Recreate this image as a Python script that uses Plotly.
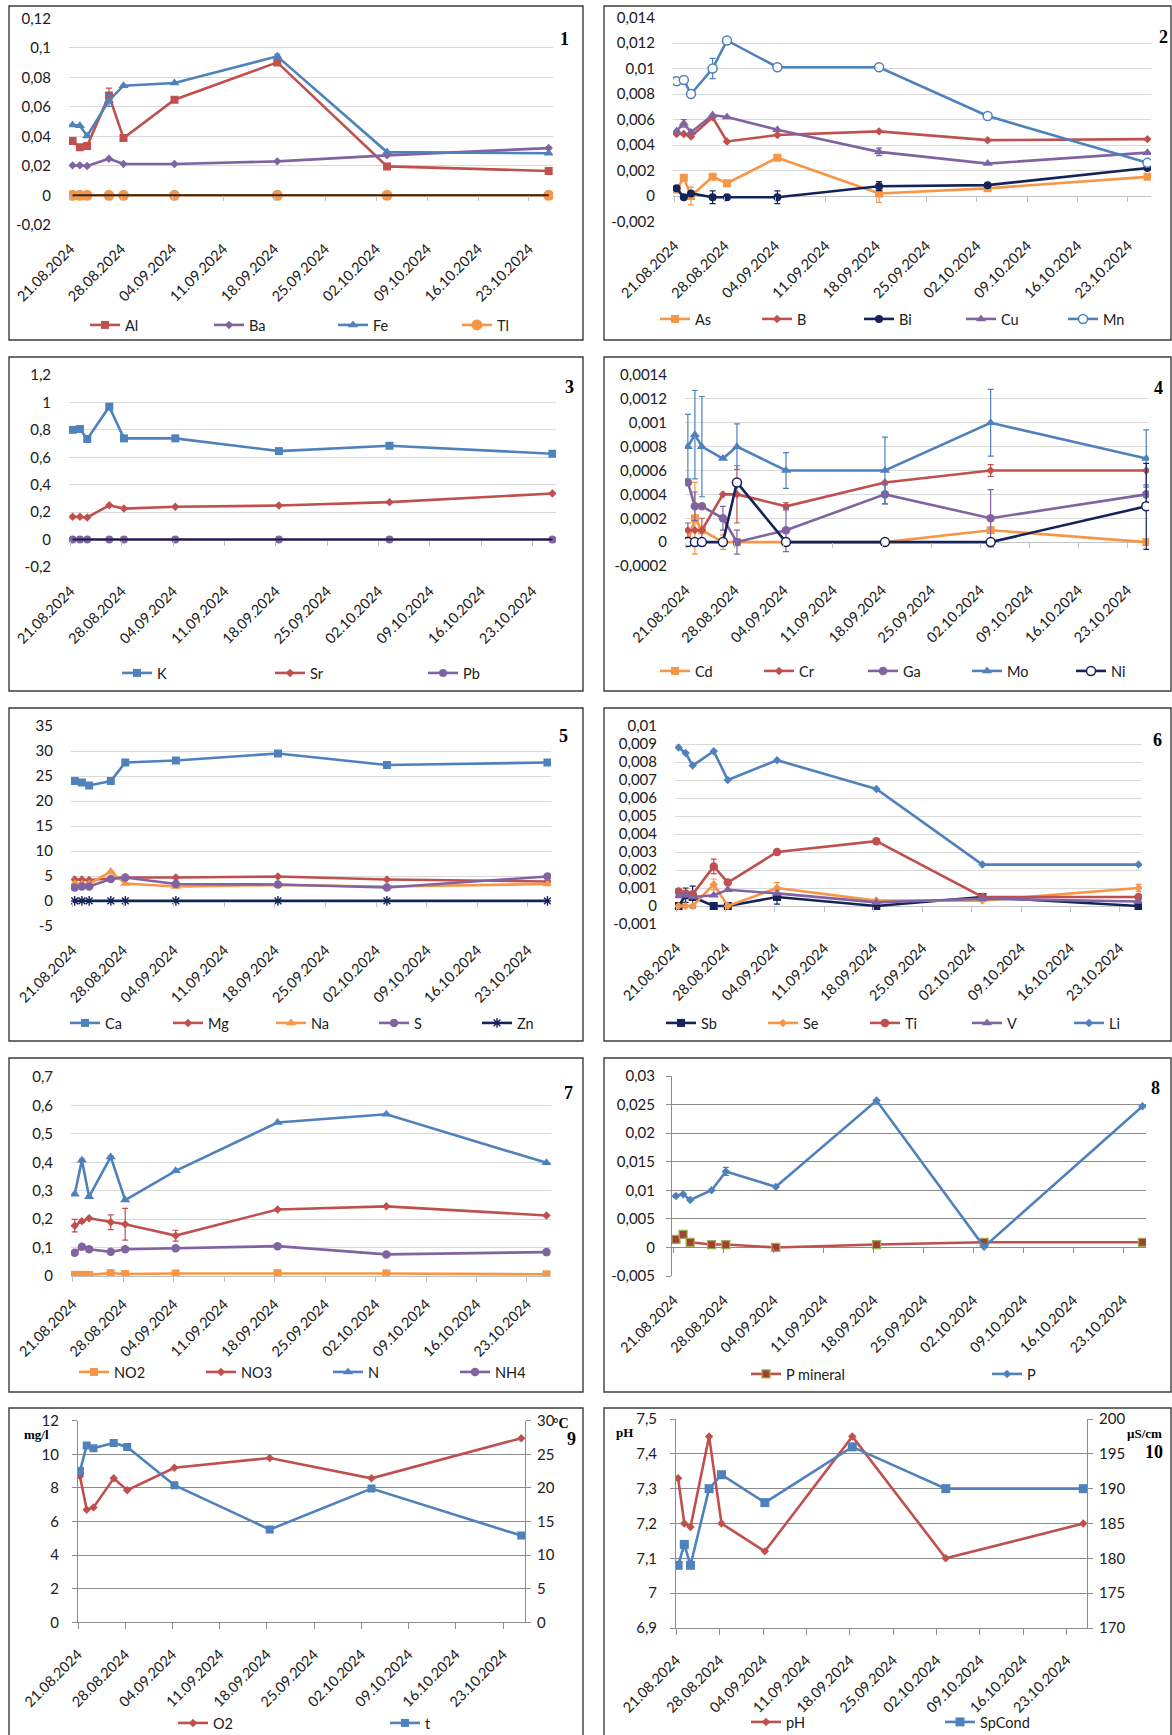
import plotly.graph_objects as go
from datetime import datetime, timedelta

W, H = 1172, 1735
FONT = "Lato"
BASE = datetime(2024, 8, 21)

# ---------------- data ----------------
dates = ["2024-08-21 07:00", "2024-08-22 07:00", "2024-08-23 07:00", "2024-08-26 07:00",
         "2024-08-28 07:00", "2024-09-04 07:00", "2024-09-18 10:00", "2024-10-03 12:00",
         "2024-10-25 17:00"]

# panel 1
al = [0.0368, 0.0325, 0.0334, 0.0677, 0.0388, 0.0648, 0.0901, 0.0196, 0.0165]
al_err = [0, 0, 0, 0.005, 0, 0, 0, 0, 0]
ba = [0.0203, 0.0203, 0.0199, 0.0248, 0.0212, 0.0212, 0.0230, 0.0271, 0.0320]
fe = [0.0476, 0.0472, 0.0402, 0.0643, 0.0743, 0.0761, 0.0942, 0.0293, 0.0285]
fe_err = [0, 0, 0, 0.004, 0, 0, 0.0015, 0, 0]
tl = [0, 0, 0, 0, 0, 0, 0, 0, 0]
p1_ticks = ["-0,02", "0", "0,02", "0,04", "0,06", "0,08", "0,1", "0,12"]

# panel 2
as_ = [0.0005, 0.00144, 0.0, 0.0015, 0.0010, 0.0030, 0.0002, 0.0006, 0.0015]
as_err = [0, 0.0002, 0.0007, 0, 0, 0, 0.0007, 0, 0]
b = [0.00486, 0.00486, 0.00466, 0.00617, 0.00428, 0.00478, 0.00507, 0.00438, 0.00446]
bi = [0.0006, -0.0001, 0.0002, -0.0001, -0.0001, -0.0001, 0.00077, 0.00085, 0.0022]
bi_err = [0, 0, 0, 0.0005, 0, 0.0005, 0.00035, 0, 0]
cu = [0.0051, 0.0057, 0.0050, 0.00635, 0.0062, 0.0052, 0.00346, 0.00254, 0.0034]
cu_err = [0, 0.0003, 0, 0, 0, 0, 0.0003, 0, 0]
mn = [0.0090, 0.0091, 0.0080, 0.0100, 0.0122, 0.0101, 0.0101, 0.00627, 0.0026]
mn_err = [0, 0, 0, 0.0008, 0, 0, 0, 0, 0]
p2_ticks = ["-0,002", "0", "0,002", "0,004", "0,006", "0,008", "0,01", "0,012", "0,014"]

# panel 3
k = [0.800, 0.806, 0.733, 0.969, 0.738, 0.738, 0.645, 0.684, 0.626]
sr = [0.166, 0.166, 0.161, 0.250, 0.226, 0.239, 0.248, 0.273, 0.336]
pb = [0, 0, 0, 0, 0, 0, 0, 0, 0]
p3_ticks = ["-0,2", "0", "0,2", "0,4", "0,6", "0,8", "1", "1,2"]

# panel 4
cd = [0.0, 0.0002, 0.0001, 0.0, 0.0, 0.0, 0.0, 0.0001, 0.0]
cd_err = [0, 0.0003, 0, 0.00006, 0, 0, 0, 0, 0]
cr = [0.0001, 0.0001, 0.0001, 0.0004, 0.0004, 0.0003, 0.0005, 0.0006, 0.0006]
cr_err = [0.00006, 0, 0.0001, 0, 0.00024, 0.00003, 0, 0.00005, 0]
ga = [0.0005, 0.0003, 0.0003, 0.0002, 0.0, 0.0001, 0.0004, 0.0002, 0.0004]
ga_err = [0, 0.00012, 0, 0.0001, 0.0001, 0.00018, 0.00008, 0.00024, 0.00008]
mo = [0.0008, 0.0009, 0.0008, 0.0007, 0.0008, 0.0006, 0.0006, 0.0010, 0.0007]
mo_err = [0.00027, 0.00037, 0.00042, 0, 0.00019, 0.00015, 0.00028, 0.00028, 0.00024]
ni = [0.0, 0.0, 0.0, 0.0, 0.0005, 0.0, 0.0, 0.0, 0.0003]
ni_err = [0, 0, 0, 0, 0, 0, 0, 0, 0.00036]
p4_ticks = ["-0,0002", "0", "0,0002", "0,0004", "0,0006", "0,0008", "0,001", "0,0012", "0,0014"]

# panel 5
ca = [24.0, 23.7, 23.1, 24.0, 27.7, 28.1, 29.5, 27.2, 27.7]
mg = [4.3, 4.3, 4.2, 4.5, 4.7, 4.7, 4.9, 4.3, 3.9]
na = [3.5, 3.4, 3.4, 5.9, 3.5, 2.9, 3.2, 2.9, 3.4]
s = [2.7, 2.9, 2.9, 4.4, 4.7, 3.4, 3.3, 2.7, 4.9]
zn = [0.03, 0.03, 0.03, 0.03, 0.03, 0.03, 0.03, 0.03, 0.03]
p5_ticks = ["-5", "0", "5", "10", "15", "20", "25", "30", "35"]

# panel 6
sb = [0.0, 0.0006, 0.0005, 0.0, 0.0, 0.0005, 0.0, 0.0005, 0.0]
sb_err = [0, 0.0004, 0.0006, 0, 0, 0.0004, 0, 0, 0]
se = [0.0, 0.0, 0.0, 0.0012, 0.0, 0.0010, 0.0003, 0.0003, 0.0010]
se_err = [0, 0, 0, 0.0003, 0, 0.0003, 0, 0, 0.0002]
ti = [0.0008, 0.0007, 0.00065, 0.0022, 0.0013, 0.0030, 0.0036, 0.0005, 0.0005]
ti_err = [0, 0, 0, 0.0004, 0, 0, 0, 0, 0]
v = [0.00055, 0.0006, 0.0005, 0.0006, 0.0009, 0.0007, 0.0002, 0.0004, 0.00025]
li = [0.0088, 0.0085, 0.0078, 0.0086, 0.0070, 0.0081, 0.0065, 0.0023, 0.0023]
p6_ticks = ["-0,001", "0", "0,001", "0,002", "0,003", "0,004", "0,005", "0,006", "0,007",
            "0,008", "0,009", "0,01"]

# panel 7
no2 = [0.004, 0.004, 0.004, 0.010, 0.007, 0.009, 0.010, 0.009, 0.006]
no3 = [0.177, 0.193, 0.203, 0.189, 0.182, 0.142, 0.234, 0.245, 0.213]
no3_err = [0.022, 0.005, 0, 0.026, 0.056, 0.019, 0, 0, 0]
n = [0.288, 0.407, 0.279, 0.419, 0.267, 0.370, 0.540, 0.569, 0.398]
n_err = [0.004, 0.004, 0.004, 0.004, 0.004, 0, 0, 0.003, 0]
nh4 = [0.082, 0.103, 0.094, 0.085, 0.094, 0.098, 0.105, 0.076, 0.084]
p7_ticks = ["0", "0,1", "0,2", "0,3", "0,4", "0,5", "0,6", "0,7"]

# panel 8
p_min = [0.0014, 0.0023, 0.0009, 0.0005, 0.0005, 0.0, 0.0005, 0.0009, 0.0009]
p_tot = [0.0090, 0.0093, 0.0083, 0.0100, 0.0133, 0.0106, 0.0257, 0.0001, 0.0247]
p_tot_err = [0.0003, 0, 0, 0, 0.0007, 0, 0, 0, 0]
p8_ticks = ["-0,005", "0", "0,005", "0,01", "0,015", "0,02", "0,025", "0,03"]

# panel 9
o2 = [8.7, 6.7, 6.84, 8.57, 7.86, 9.2, 9.78, 8.57, 10.96]
temp = [22.5, 26.3, 25.9, 26.7, 26.1, 20.4, 13.8, 19.9, 12.9]
p9_ticks = ["0", "2", "4", "6", "8", "10", "12"]
p9_ticks_r = ["0", "5", "10", "15", "20", "25", "30"]

# panel 10
ph = [7.33, 7.20, 7.19, 7.45, 7.20, 7.12, 7.45, 7.10, 7.20]
spcond = [179, 182, 179, 190, 192, 188, 196, 190, 190]
p10_ticks = ["6,9", "7", "7,1", "7,2", "7,3", "7,4", "7,5"]
p10_ticks_r = ["170", "175", "180", "185", "190", "195", "200"]

# ---------------- styles / geometry (page pixels) ----------------
RED = "#C0504D"
BLUE = "#4F81BD"
PURPLE = "#8064A2"
ORANGE = "#F79646"
NAVY = "#14245A"
TXT = "#202020"
GRID = "#D9D9D9"
GRID_DARK = "#8C8C8C"
YFS = 15     # y tick label size
XFS = 14.5   # x tick label size
LFS = 14.5   # legend text size

GEOM = {
    1: dict(box=(9, 6, 583, 340), plot=(69, 18.3, 553, 224.8), xr=(-0.2, 66.3), leg=(85, 325, 124), num=(564, 39)),
    2: dict(box=(604, 6, 1171, 340), plot=(673, 17.5, 1151, 221.5), xr=(-0.21, 66.2), leg=(655, 319, 102), num=(1163, 37)),
    3: dict(box=(9, 357, 583, 691), plot=(69, 375, 556, 567), xr=(-0.2, 66.2), leg=(117, 673, 153), num=(569, 387)),
    4: dict(box=(604, 357, 1171, 691), plot=(685, 375, 1149, 566), xr=(-0.12, 66.1), leg=(655, 671, 104), num=(1158, 388)),
    5: dict(box=(9, 708, 583, 1041), plot=(71, 726, 551, 926), xr=(-0.22, 66.2), leg=(65, 1023, 103), num=(563, 736)),
    6: dict(box=(604, 708, 1171, 1041), plot=(675, 726, 1142, 924), xr=(-0.22, 66.2), leg=(661, 1023, 102), num=(1157, 740)),
    7: dict(box=(9, 1058, 583, 1392), plot=(71, 1077, 551, 1276), xr=(-0.22, 66.33), leg=(74, 1372, 127), num=(568, 1093)),
    8: dict(box=(604, 1058, 1171, 1392), plot=(672, 1076, 1146, 1276), xr=(-0.26, 66.2), leg=(746, 1374, 241), num=(1155, 1088)),
    9: dict(box=(9, 1408, 583, 1745), plot=(78, 1420.7, 525, 1622.3), xr=(0.0, 66.26), leg=(173, 1723, 212), num=(571, 1439)),
    10: dict(box=(604, 1408, 1171, 1745), plot=(676, 1419, 1087, 1628), xr=(-0.05, 66.3), leg=(746, 1722, 194), num=(1154, 1452)),
}

TICKS = {1: p1_ticks, 2: p2_ticks, 3: p3_ticks, 4: p4_ticks, 5: p5_ticks,
         6: p6_ticks, 7: p7_ticks, 8: p8_ticks, 9: p9_ticks, 10: p10_ticks}


def fx(px):
    return px / W


def fy(py):
    return 1 - py / H


def vals(ticks):
    return [float(t.replace(",", ".")) for t in ticks]


def dstr(off):
    return (BASE + timedelta(days=off)).strftime("%Y-%m-%d %H:%M:%S")


def axn(kind, i):
    return kind if i == 1 else f"{kind}{i}"


def lgn(i):
    return "legend" if i == 1 else f"legend{i}"


fig = go.Figure()


def add(panel, name, y, color, symbol, size, err=None, fill=None, mline=None, mlw=0,
        yaxis=None, showlegend=True, lw=2.6, mode="lines+markers"):
    marker = dict(symbol=symbol, size=size, color=fill or color,
                  line=dict(color=mline or color, width=mlw))
    tr = go.Scatter(x=dates, y=y, name=name, mode=mode,
                    line=dict(color=color, width=lw), marker=marker,
                    xaxis=axn("x", panel), yaxis=yaxis or axn("y", panel),
                    legend=lgn(panel), showlegend=showlegend, hoverinfo="skip")
    if err is not None:
        tr.update(error_y=dict(type="data", array=err, visible=True, color=color,
                               thickness=1.2, width=3))
    fig.add_trace(tr)


# panel 1
add(1, "Al", al, RED, "square", 8, err=al_err)
add(1, "Ba", ba, PURPLE, "diamond", 6.5)
add(1, "Fe", fe, BLUE, "triangle-up", 9, err=fe_err)
add(1, "Tl", tl, ORANGE, "circle", 11)
add(1, "Tl0", tl, "#2B2622", "circle", 1, showlegend=False, lw=2, mode="lines")
# panel 2
add(2, "As", as_, ORANGE, "square", 8, err=as_err)
add(2, "B", b, RED, "diamond", 6.5)
add(2, "Bi", bi, NAVY, "circle", 8, err=bi_err)
add(2, "Cu", cu, PURPLE, "triangle-up", 9, err=cu_err)
add(2, "Mn", mn, BLUE, "circle", 9, err=mn_err, fill="white", mlw=1.5)
# panel 3
add(3, "K", k, BLUE, "square", 8)
add(3, "Sr", sr, RED, "diamond", 6.5)
add(3, "Pb", pb, PURPLE, "circle", 8)
add(3, "Pb0", pb, "#1C1C3C", "circle", 1, showlegend=False, lw=2, mode="lines")
# panel 4
add(4, "Cd", cd, ORANGE, "square", 8, err=cd_err)
add(4, "Cr", cr, RED, "diamond", 6.5, err=cr_err)
add(4, "Ga", ga, PURPLE, "circle", 8.5, err=ga_err)
add(4, "Mo", mo, BLUE, "triangle-up", 9, err=mo_err)
add(4, "Ni", ni, NAVY, "circle", 9, err=ni_err, fill="white", mlw=1.5)
# panel 5
add(5, "Ca", ca, BLUE, "square", 8)
add(5, "Mg", mg, RED, "diamond", 6.5)
add(5, "Na", na, ORANGE, "triangle-up", 9)
add(5, "S", s, PURPLE, "circle", 8.5)
add(5, "Zn", zn, NAVY, "asterisk-open", 8, mlw=1.4)
# panel 6
add(6, "Sb", sb, NAVY, "square", 8, err=sb_err)
add(6, "Se", se, ORANGE, "diamond", 6.5, err=se_err)
add(6, "Ti", ti, RED, "circle", 8.5, err=ti_err)
add(6, "V", v, PURPLE, "triangle-up", 9)
add(6, "Li", li, BLUE, "diamond", 6.5)
# panel 7
add(7, "NO2", no2, ORANGE, "square", 8)
add(7, "NO3", no3, RED, "diamond", 6.5, err=no3_err)
add(7, "N", n, BLUE, "triangle-up", 9, err=n_err)
add(7, "NH4", nh4, PURPLE, "circle", 8.5)
# panel 8
add(8, "P mineral", p_min, RED, "square", 8, fill="#A0402E", mline="#A6A857", mlw=1.3)
add(8, "P", p_tot, BLUE, "diamond", 6.5, err=p_tot_err)
# panel 9
add(9, "O2", o2, RED, "diamond", 6.5)
add(9, "t", temp, BLUE, "square", 8, yaxis="y11")
# panel 10
add(10, "pH", ph, RED, "diamond", 6.5)
add(10, "SpCond", spcond, BLUE, "square", 9, yaxis="y12")

layout = dict(width=W, height=H, margin=dict(l=0, r=0, t=0, b=0, autoexpand=False),
              autosize=False, paper_bgcolor="white", plot_bgcolor="white",
              font=dict(family=FONT, size=14, color=TXT), showlegend=True)

shapes = []
annotations = []
zero_axis_id = 13
for p, g in GEOM.items():
    x0, yt, x1, yb = g["plot"]
    tv = vals(TICKS[p])
    ymin, ymax = min(tv), max(tv)
    eps = (ymax - ymin) * 1e-6
    dark = p >= 8
    xa = dict(domain=[fx(x0), fx(x1)], anchor=axn("y", p), type="date",
              range=[dstr(g["xr"][0]), dstr(g["xr"][1])],
              tick0="2024-08-21", dtick=7 * 86400000, tickformat="%d.%m.%Y", tickangle=-45,
              showgrid=False, zeroline=False, tickfont=dict(family=FONT, size=XFS, color=TXT),
              ticks="", showline=False, fixedrange=True, ticklabelstandoff=12)
    ya = dict(domain=[fy(yb), fy(yt)], anchor=axn("x", p),
              range=[ymin - eps, ymax + eps], tickmode="array", tickvals=tv, ticktext=TICKS[p],
              showgrid=True, gridcolor=GRID_DARK if dark else GRID, gridwidth=1,
              zeroline=(ymin < 0), zerolinecolor=GRID_DARK if dark else "#C4C4C4", zerolinewidth=1,
              tickfont=dict(family=FONT, size=YFS, color=TXT), ticks="", showline=False,
              fixedrange=True, ticklabelstandoff=17)
    if p == 7:
        xa.update(ticks="outside", ticklen=5, tickcolor="#BFBFBF", showline=True, linecolor="#BFBFBF",
                  ticklabelstandoff=8)
    if p >= 8:
        ya.update(showline=True, linecolor=GRID_DARK, ticks="outside", ticklen=5, tickcolor=GRID_DARK,
                  ticklabelstandoff=8)
    if p >= 9:
        xa.update(showline=True, linecolor=GRID_DARK, ticks="outside", ticklen=6, tickcolor=GRID_DARK,
                  ticklabelstandoff=11)
        ya.update(ticklabelstandoff=10)
    layout[axn("xaxis", p)] = xa
    layout[axn("yaxis", p)] = ya

    # tick marks on the zero line for panels where 0 lies inside the plot
    if ymin < 0:
        y0px = yt + (ymax - 0) / (ymax - ymin) * (yb - yt)
        zid = zero_axis_id
        zero_axis_id += 1
        layout[f"xaxis{zid}"] = dict(overlaying=axn("x", p), anchor="free", position=fy(y0px),
                                     type="date", range=xa["range"], tick0="2024-08-21",
                                     dtick=7 * 86400000, ticks="outside", ticklen=5,
                                     tickcolor=GRID_DARK if dark else "#BFBFBF",
                                     showticklabels=False, showgrid=False, zeroline=False,
                                     showline=False, fixedrange=True)
        fig.add_trace(go.Scatter(x=[dates[0]], y=[None], xaxis=f"x{zid}", yaxis=axn("y", p),
                                 showlegend=False, hoverinfo="skip", mode="markers"))

    lx, ly, sp = g["leg"]
    layout[lgn(p)] = dict(orientation="h", x=fx(lx), y=fy(ly), xanchor="left",
                          yanchor="middle", entrywidth=sp - 45, entrywidthmode="pixels",
                          font=dict(family=FONT, size=LFS, color=TXT), bgcolor="rgba(0,0,0,0)",
                          borderwidth=0, traceorder="normal", itemclick=False,
                          itemdoubleclick=False)

    bx0, by0, bx1, by1 = g["box"]
    shapes.append(dict(type="rect", xref="paper", yref="paper", x0=fx(bx0), x1=fx(bx1),
                       y0=fy(by1), y1=fy(by0), line=dict(color="#3C3C3C", width=1.4),
                       fillcolor="rgba(0,0,0,0)", layer="below"))
    nx, ny = g["num"]
    annotations.append(dict(text=f"<b>{p}</b>", x=fx(nx), y=fy(ny), xref="paper", yref="paper",
                            showarrow=False, xanchor="center", yanchor="middle",
                            font=dict(family="Liberation Serif", size=18, color="black")))

# right axes for panels 9 and 10
for rid, p, ticks in ((11, 9, p9_ticks_r), (12, 10, p10_ticks_r)):
    tv = vals(ticks)
    eps = (max(tv) - min(tv)) * 1e-6
    layout[f"yaxis{rid}"] = dict(overlaying=axn("y", p), side="right", anchor=axn("x", p),
                                 range=[min(tv) - eps, max(tv) + eps], tickmode="array",
                                 tickvals=tv, ticktext=ticks, showgrid=False, zeroline=False,
                                 showline=True, linecolor=GRID_DARK, ticks="outside", ticklen=5,
                                 tickcolor=GRID_DARK, tickfont=dict(family=FONT, size=YFS, color=TXT),
                                 fixedrange=True, ticklabelstandoff=3)

unit_labels = [("mg/l", 36, 1434, 13), ("°C", 561, 1423, 14), ("pH", 624, 1432, 13),
               ("µS/cm", 1144, 1433, 13)]
for txt, ux, uy, fs in unit_labels:
    annotations.append(dict(text=f"<b>{txt}</b>", x=fx(ux), y=fy(uy), xref="paper", yref="paper",
                            showarrow=False, xanchor="center", yanchor="middle",
                            font=dict(family="Liberation Serif", size=fs, color="black")))

layout["shapes"] = shapes
layout["annotations"] = annotations
fig.update_layout(**layout)

# remove the default page margin so that the figure fills the window exactly
page_fix = ("document.documentElement.style.margin='0';document.body.style.margin='0';"
            "document.body.style.padding='0';document.documentElement.style.overflow='hidden';"
            "document.body.style.overflow='hidden';")
fig.write_html("out.html", post_script=page_fix, config={"displayModeBar": False})
